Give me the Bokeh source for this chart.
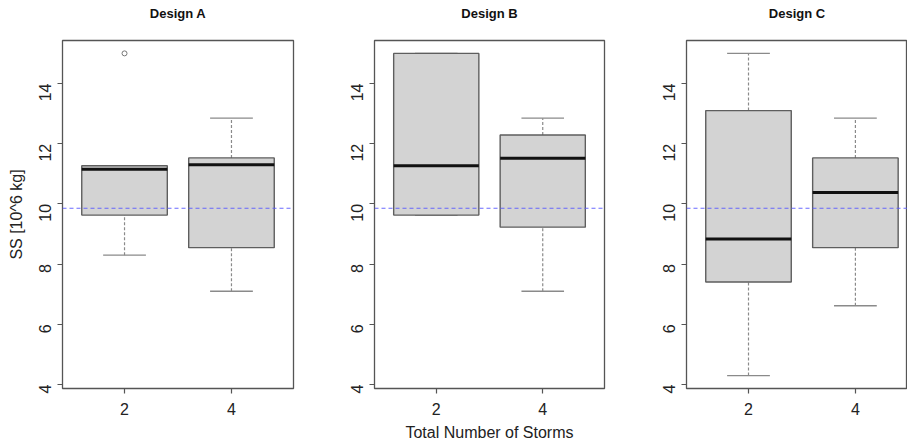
import math
from bokeh.plotting import figure
from bokeh.layouts import row
from bokeh.models import Range1d, FixedTicker, Span, LinearAxis
from bokeh.embed import file_html
from bokeh.resources import INLINE

# ---------------- data ----------------
categories = ["2", "4"]                      # Total Number of Storms
designs = ["Design A", "Design B", "Design C"]

# five-number summaries per design, one value per category
a_low = [8.30, 7.10]
a_q1 = [9.63, 8.55]
a_med = [11.15, 11.30]
a_q3 = [11.27, 11.53]
a_high = [11.27, 12.85]
a_out_cat = ["2"]
a_out_val = [15.0]

b_low = [9.63, 7.10]
b_q1 = [9.63, 9.23]
b_med = [11.27, 11.52]
b_q3 = [15.0, 12.29]
b_high = [15.0, 12.85]
b_out_cat = []
b_out_val = []

c_low = [4.30, 6.62]
c_q1 = [7.41, 8.55]
c_med = [8.84, 10.38]
c_q3 = [13.10, 11.53]
c_high = [15.0, 12.85]
c_out_cat = []
c_out_val = []

reference_level = 9.86
y_ticks = [4, 6, 8, 10, 12, 14]
y_label = "SS [10^6 kg]"
x_label = "Total Number of Storms"

# ---------------- styling ----------------
FONT = "Liberation Sans"
FRAME = "#555555"
BOX_FILL = "#d3d3d3"
BOX_LINE = "#5e5e5e"
WHISK = "#8a8a8a"
Y_START, Y_END = 3.872, 15.428
PX_PER_UNIT = 106.9
FRAME_H = 348

panels = [
    (designs[0], a_low, a_q1, a_med, a_q3, a_high, a_out_cat, a_out_val),
    (designs[1], b_low, b_q1, b_med, b_q3, b_high, b_out_cat, b_out_val),
    (designs[2], c_low, c_q1, c_med, c_q3, c_high, c_out_cat, c_out_val),
]
layout_spec = [  # (min_border_left, frame_width, min_border_right)
    (62, 231, 27),
    (54, 230, 27),
    (55, 221, 0),
]

pos = [i + 1 for i in range(len(categories))]
idx = {c: p for c, p in zip(categories, pos)}
box_w = 0.8
cap_w = 0.4

figs = []
for k, ((title, low, q1, med, q3, high, oc, ov), (bl, fw, br)) in enumerate(zip(panels, layout_spec)):
    x_end = 0.42 + fw / PX_PER_UNIT if k == 2 else 2.58
    p = figure(frame_width=fw, frame_height=FRAME_H, min_border_left=bl, min_border_right=br,
               min_border_top=40, min_border_bottom=60,
               x_range=Range1d(0.42, x_end), y_range=Range1d(Y_START, Y_END),
               output_backend="svg", toolbar_location=None)
    p.grid.visible = False
    p.outline_line_color = FRAME
    p.outline_line_width = 1.3
    p.outline_line_alpha = 1.0
    p.background_fill_color = "white"
    p.border_fill_color = "white"

    # panel title: label of a tick-less axis in the top margin (like R's main title)
    top = LinearAxis(ticker=FixedTicker(ticks=[]), axis_label=title,
                     axis_line_color=None, major_tick_line_color=None, minor_tick_line_color=None,
                     major_tick_out=0, major_tick_in=0, major_label_text_font_size="0px",
                     axis_label_standoff=20, axis_label_text_font=FONT,
                     axis_label_text_font_size="13px", axis_label_text_font_style="bold",
                     axis_label_text_color="#111111")
    p.add_layout(top, "above")

    # whiskers (dashed) and caps
    p.segment(x0=pos, y0=q3, x1=pos, y1=high, line_color=WHISK, line_width=1.2, line_dash="3 2")
    p.segment(x0=pos, y0=low, x1=pos, y1=q1, line_color=WHISK, line_width=1.2, line_dash="3 2")
    p.segment(x0=[x - cap_w / 2 for x in pos], y0=high, x1=[x + cap_w / 2 for x in pos], y1=high,
              line_color=WHISK, line_width=1.4)
    p.segment(x0=[x - cap_w / 2 for x in pos], y0=low, x1=[x + cap_w / 2 for x in pos], y1=low,
              line_color=WHISK, line_width=1.4)
    # boxes
    p.vbar(x=pos, width=box_w, bottom=q1, top=q3, fill_color=BOX_FILL, line_color=BOX_LINE, line_width=1.4)
    # medians
    p.segment(x0=[x - box_w / 2 for x in pos], y0=med, x1=[x + box_w / 2 for x in pos], y1=med,
              line_color="#111111", line_width=3)
    # outliers
    if ov:
        p.scatter(x=[idx[c] for c in oc], y=ov, marker="circle", size=5, fill_color=None,
                  line_color="#777777", line_width=1)

    p.add_layout(Span(location=reference_level, dimension="width", line_color="#5a5aff",
                      line_width=1.1, line_alpha=0.9, line_dash="4 3"))

    for ax in (p.below[0], p.left[0]):
        ax.axis_line_color = None
        ax.major_tick_in = 0
        ax.major_tick_out = 5
        ax.major_tick_line_color = FRAME
        ax.major_tick_line_width = 1.2
        ax.minor_tick_line_color = None
        ax.major_label_text_font = FONT
        ax.major_label_text_font_size = "16px"
        ax.major_label_text_color = "#222222"
        ax.axis_label_text_font = FONT
        ax.axis_label_text_font_size = "16px"
        ax.axis_label_text_font_style = "normal"
        ax.axis_label_text_color = "#222222"
    xa, ya = p.below[0], p.left[0]
    xa.major_label_standoff = 9
    xa.axis_label_standoff = 6
    ya.major_label_standoff = 12
    ya.axis_label_standoff = 6
    xa.ticker = FixedTicker(ticks=pos)
    xa.major_label_overrides = {x: c for x, c in zip(pos, categories)}
    ya.ticker = FixedTicker(ticks=y_ticks)
    ya.major_label_orientation = math.pi / 2
    if k == 0:
        ya.axis_label = y_label
    if k == 1:
        xa.axis_label = x_label
    figs.append(p)

layout = row(*figs)
open("out.html", "w").write(file_html(layout, INLINE))
